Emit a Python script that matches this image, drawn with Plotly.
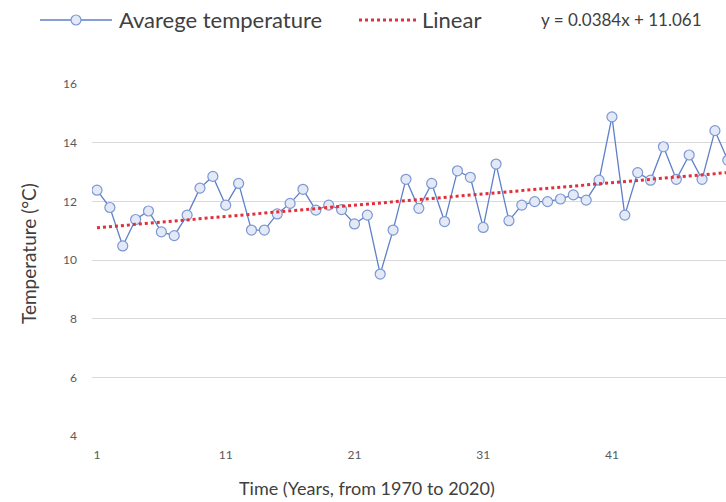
import plotly.graph_objects as go

# Annual average temperature, year index 1 = 1970
years = list(range(1, 51))
avg_temp = [
    12.38, 11.79, 10.48, 11.38, 11.67, 10.96, 10.83, 11.53, 12.45, 12.85,
    11.87, 12.61, 11.02, 11.02, 11.57, 11.93, 12.41, 11.70, 11.87, 11.72,
    11.23, 11.53, 9.52, 11.02, 12.75, 11.76, 12.61, 11.31, 13.04, 12.82,
    11.11, 13.27, 11.34, 11.87, 11.99, 11.99, 12.08, 12.22, 12.04, 12.72,
    14.88, 11.53, 12.98, 12.72, 13.86, 12.75, 13.58, 12.75, 14.41, 13.40,
]

# Linear trendline coefficients
slope = 0.0384
intercept = 11.061
trend = [slope * x + intercept for x in years]

x_ticks = [1, 11, 21, 31, 41]
y_ticks = [4, 6, 8, 10, 12, 14, 16]

series_names = ["Avarege temperature", "Linear"]
x_title = "Time (Years, from 1970 to 2020)"
y_title = "Temperature (°C)"

FONT = "Lato"
BLUE_LINE = "#5E80C8"
MARKER_FILL = "#E3E9F6"
MARKER_EDGE = "#7C98D2"
RED = "#E0303A"

# Plot area in pixels (used to place the legend row and titles)
W, H = 726, 502
L, R, T, B = 92, 0, 84, 66
PW, PH = W - L - R, H - T - B


def px_x(p):
    return (p - L) / PW


def px_y(p):
    return 1 + (T - p) / PH


fig = go.Figure()

fig.add_trace(go.Scatter(
    x=years, y=avg_temp,
    mode="lines+markers",
    name=series_names[0],
    showlegend=False,
    line=dict(color=BLUE_LINE, width=1.3),
    marker=dict(symbol="circle", size=10, color=MARKER_FILL,
                line=dict(color=MARKER_EDGE, width=1.2)),
))

fig.add_trace(go.Scatter(
    x=years, y=trend,
    mode="lines",
    name=series_names[1],
    showlegend=False,
    line=dict(color=RED, width=3, dash="dot"),
))

# Legend row
legend_y = 20
fig.add_shape(type="line", xref="paper", yref="paper",
              x0=px_x(40), x1=px_x(112), y0=px_y(legend_y), y1=px_y(legend_y),
              line=dict(color=BLUE_LINE, width=1.3))
fig.add_shape(type="circle", xref="paper", yref="paper",
              x0=px_x(71), x1=px_x(81), y0=px_y(legend_y + 5), y1=px_y(legend_y - 5),
              fillcolor=MARKER_FILL, line=dict(color=MARKER_EDGE, width=1.2))
fig.add_shape(type="line", xref="paper", yref="paper",
              x0=px_x(359), x1=px_x(416), y0=px_y(legend_y), y1=px_y(legend_y),
              line=dict(color=RED, width=3, dash="dot"))

for label, left in zip(series_names, [117, 420]):
    fig.add_annotation(
        text=label, xref="paper", yref="paper",
        x=px_x(left), y=px_y(legend_y),
        xanchor="left", yanchor="middle", showarrow=False,
        font=dict(family=FONT, size=22, color="#404040"),
    )

fig.add_annotation(
    text=f"y = {slope}x + {intercept}",
    xref="paper", yref="paper",
    x=px_x(539), y=px_y(legend_y),
    xanchor="left", yanchor="middle",
    showarrow=False,
    font=dict(family=FONT, size=17, color="#404040"),
)

# Axis titles
fig.add_annotation(
    text=x_title, xref="paper", yref="paper",
    x=px_x(367), y=px_y(488),
    xanchor="center", yanchor="middle", showarrow=False,
    font=dict(family=FONT, size=18, color="#404040"),
)
fig.add_annotation(
    text=y_title, xref="paper", yref="paper",
    x=px_x(28), y=px_y(254), textangle=-90,
    xanchor="center", yanchor="middle", showarrow=False,
    font=dict(family=FONT, size=19, color="#404040"),
)

fig.update_layout(
    width=W, height=H,
    margin=dict(l=L, r=R, t=T, b=B),
    paper_bgcolor="white", plot_bgcolor="white",
    font=dict(family=FONT, color="#404040"),
    showlegend=False,
    xaxis=dict(
        range=[0.612, 49.86],
        tickmode="array", tickvals=x_ticks,
        showgrid=False, zeroline=False, showline=False,
        ticks="",
        tickfont=dict(family=FONT, size=12, color="#595959"),
        ticklabelstandoff=10,
    ),
    yaxis=dict(
        range=[4, 16],
        tickmode="array", tickvals=y_ticks,
        showgrid=True, gridcolor="#D9D9D9", gridwidth=1,
        zeroline=False, showline=False,
        ticks="",
        tickfont=dict(family=FONT, size=12, color="#595959"),
        ticklabelstandoff=14,
    ),
)

fig.write_html("out.html")
